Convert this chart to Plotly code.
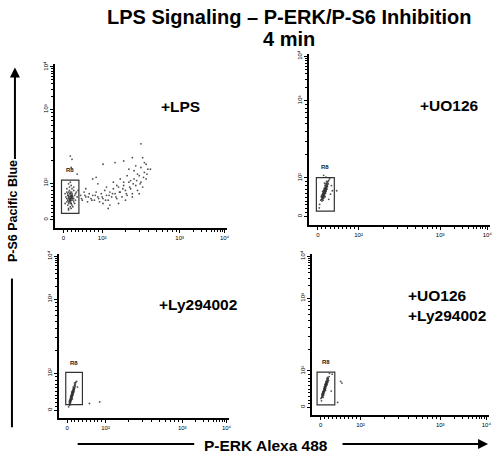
import math
import plotly.graph_objects as go

W, H = 500, 456
FONT = "Liberation Sans, Arial, sans-serif"

# ---------------- data (display units of the biexponential scale, 0..1) ----------------
tick_pos = [0.05, 0.275, 0.725, 0.985]
tick_text = ["0", "10²", "10³", "10⁴"]

panel_names = ["+LPS", "+UO126", "+Ly294002", "+UO126<br>+Ly294002"]
gate_name = "R8"

lps_x = [0.07,0.08,0.09,0.10,0.11,0.08,0.09,0.10,0.07,0.085,0.095,0.105,0.115,0.075,0.09,0.10,0.12,0.065,0.08,0.09,
         0.11,0.085,0.095,0.10,0.07,0.075,0.09,0.105,0.12,0.13,0.06,0.08,0.095,0.11,0.125,0.07,0.085,0.1,0.115,0.09,
         0.08,0.1,0.06,0.135,0.105,0.075,0.095,0.11,0.088,0.098,
         0.075,0.08,0.085,0.09,0.095,0.10,0.078,0.083,0.088,0.093,0.098,0.082,0.087,0.092,0.097,0.08,0.09,0.1,0.085,0.095,
         0.15,0.16,0.17,0.18,0.19,0.20,0.21,0.22,0.23,0.24,0.25,0.26,0.27,0.28,0.29,0.30,0.31,0.32,0.33,0.34,
         0.35,0.36,0.37,0.38,0.39,0.40,0.41,0.42,0.43,0.44,0.45,0.46,0.47,0.48,0.49,0.50,0.51,0.52,0.53,0.54,
         0.155,0.175,0.195,0.215,0.235,0.255,0.275,0.295,0.315,0.335,0.355,0.375,0.395,0.415,0.435,0.455,0.475,0.495,0.515,0.535,
         0.30,0.34,0.38,0.42,0.46,0.50,0.52,0.48,0.44,0.40,0.36,0.32,0.28,0.37,0.41,0.45,0.49,0.25,0.22,0.18,
         0.09,0.10,0.095,0.28,0.35,0.40,0.45,0.51,0.50,0.555,0.13,0.31,0.24,0.47,0.43,0.53]
lps_y = [0.18,0.19,0.20,0.19,0.18,0.16,0.17,0.21,0.22,0.23,0.15,0.17,0.20,0.14,0.22,0.24,0.21,0.19,0.12,0.13,
         0.16,0.25,0.26,0.14,0.16,0.20,0.18,0.19,0.17,0.19,0.21,0.27,0.12,0.23,0.22,0.24,0.17,0.18,0.15,0.28,
         0.11,0.20,0.15,0.23,0.13,0.21,0.19,0.25,0.17,0.22,
         0.17,0.18,0.16,0.19,0.17,0.18,0.20,0.19,0.21,0.18,0.20,0.15,0.17,0.16,0.19,0.22,0.21,0.20,0.18,0.15,
         0.20,0.17,0.22,0.19,0.16,0.21,0.18,0.20,0.17,0.22,0.19,0.16,0.21,0.18,0.23,0.20,0.17,0.22,0.19,0.24,
         0.21,0.18,0.25,0.22,0.19,0.26,0.23,0.20,0.28,0.24,0.21,0.30,0.26,0.23,0.32,0.28,0.25,0.34,0.30,0.36,
         0.18,0.20,0.19,0.17,0.20,0.18,0.19,0.17,0.20,0.21,0.19,0.22,0.24,0.21,0.25,0.27,0.29,0.27,0.31,0.33,
         0.25,0.28,0.30,0.32,0.35,0.37,0.40,0.33,0.29,0.28,0.26,0.14,0.15,0.15,0.17,0.19,0.21,0.27,0.30,0.24,
         0.44,0.42,0.37,0.39,0.40,0.41,0.43,0.43,0.515,0.36,0.33,0.12,0.31,0.38,0.36,0.39]

uo_x = [0.066,0.070,0.072,0.075,0.078,0.074,0.080,0.083,0.079,0.085,0.082,0.088,0.086,0.090,0.092,0.088,0.094,0.091,0.097,0.095,
        0.099,0.102,0.098,0.104,0.106,0.101,0.084,0.077,0.093,0.081,0.096,0.087,0.090,0.073,0.069,0.076,0.100,0.103,0.108,0.089,
        0.085,0.095,0.080,0.071,0.092,0.110,0.083,0.079,0.098,0.087,
        0.076,0.081,0.086,0.091,0.096,0.078,0.083,0.088,0.093,0.098,0.074,0.079,0.084,0.089,0.094,0.099,0.082,0.087,0.092,0.097,
        0.080,0.085,0.090,0.095,0.100,
        0.12,0.13,0.11,0.06,0.115,0.058,0.095,0.125,0.154,0.082]
uo_y = [0.145,0.150,0.160,0.155,0.165,0.170,0.175,0.170,0.180,0.185,0.190,0.190,0.200,0.195,0.205,0.210,0.215,0.220,0.220,0.230,
        0.235,0.240,0.245,0.250,0.255,0.225,0.160,0.185,0.185,0.200,0.205,0.175,0.165,0.140,0.165,0.195,0.210,0.225,0.240,0.230,
        0.215,0.195,0.155,0.175,0.240,0.260,0.205,0.145,0.255,0.245,
        0.160,0.172,0.184,0.196,0.208,0.178,0.190,0.202,0.214,0.226,0.150,0.162,0.174,0.186,0.198,0.212,0.182,0.194,0.206,0.218,
        0.168,0.180,0.200,0.222,0.232,
        0.18,0.20,0.15,0.12,0.27,0.10,0.28,0.23,0.20,0.29]

ly_x = [0.060,0.063,0.066,0.068,0.065,0.070,0.072,0.069,0.074,0.076,0.073,0.078,0.080,0.077,0.082,0.084,0.081,0.086,0.088,0.085,
        0.090,0.092,0.095,0.098,0.094,0.079,0.071,0.075,0.083,0.087,0.067,0.062,0.089,0.091,0.080,0.074,0.086,0.093,0.100,0.097,
        0.064,0.076,0.070,0.083,0.088,
        0.068,0.072,0.076,0.080,0.084,0.088,0.070,0.074,0.078,0.082,0.086,0.090,0.066,0.071,0.075,0.079,0.083,0.087,0.073,0.077,
        0.081,0.085,0.078,0.082,0.069,
        0.18,0.24,0.105,0.058,0.11]
ly_y = [0.085,0.095,0.090,0.100,0.110,0.110,0.120,0.125,0.130,0.125,0.140,0.140,0.150,0.155,0.160,0.165,0.170,0.175,0.180,0.190,
        0.190,0.200,0.205,0.210,0.185,0.135,0.105,0.145,0.150,0.165,0.115,0.105,0.170,0.178,0.118,0.112,0.155,0.215,0.220,0.195,
        0.080,0.160,0.135,0.140,0.160,
        0.105,0.118,0.132,0.146,0.160,0.175,0.120,0.133,0.147,0.158,0.170,0.183,0.098,0.112,0.126,0.140,0.154,0.168,0.128,0.142,
        0.156,0.180,0.130,0.145,0.095,
        0.09,0.10,0.225,0.07,0.19]

both_x = [0.052,0.056,0.058,0.061,0.063,0.060,0.066,0.068,0.065,0.070,0.072,0.069,0.074,0.076,0.073,0.078,0.080,0.077,0.082,0.084,
          0.081,0.086,0.088,0.090,0.085,0.092,0.071,0.075,0.079,0.083,0.087,0.067,0.062,0.078,0.091,0.057,0.074,0.089,0.095,0.064,
          0.080,0.086,0.070,0.093,0.098,
          0.060,0.064,0.068,0.072,0.076,0.080,0.084,0.062,0.066,0.070,0.074,0.078,0.082,0.086,0.058,0.063,0.067,0.071,0.075,0.079,
          0.083,0.073,0.077,0.081,0.069,
          0.163,0.17,0.146,0.10,0.115,0.11,0.055]
both_y = [0.105,0.110,0.120,0.115,0.130,0.135,0.140,0.135,0.150,0.155,0.150,0.165,0.170,0.165,0.180,0.185,0.180,0.195,0.200,0.195,
          0.210,0.215,0.210,0.220,0.225,0.230,0.145,0.160,0.170,0.185,0.200,0.125,0.145,0.155,0.205,0.130,0.190,0.235,0.215,0.112,
          0.205,0.190,0.175,0.225,0.240,
          0.125,0.138,0.152,0.165,0.178,0.192,0.205,0.140,0.148,0.160,0.175,0.188,0.198,0.210,0.115,0.128,0.142,0.158,0.168,0.180,
          0.192,0.160,0.172,0.186,0.150,
          0.21,0.20,0.08,0.26,0.255,0.15,0.09]

# faint events piled up left of the axis (below-scale values)
stray_x = [None, -0.093, -0.094, -0.11]
stray_y = [[], [0.61,0.55,0.50,0.46,0.43,0.41],
           [0.60,0.55,0.50,0.47,0.44,0.38],
           [0.60,0.54,0.51,0.48,0.45,0.42,0.37]]

gate_x0 = [0.039, 0.042, 0.041, 0.030]
gate_x1 = [0.140, 0.141, 0.139, 0.130]
gate_y0 = [0.090, 0.081, 0.083, 0.065]
gate_y1 = [0.293, 0.277, 0.279, 0.268]

# ---------------- layout helpers ----------------
panel_px = [(55, 228, 61, 226), (310, 492, 50, 223), (59, 230, 252, 418), (313, 491, 252, 415)]
label_pos = [(0.73, 0.745, "center"), (0.775, 0.70, "center"), (0.82, 0.69, "center"), (0.53, 0.68, "left")]

minor_vals = []
for i in range(1, 10):
    minor_vals.append(tick_pos[0] + (tick_pos[1] - tick_pos[0]) * i / 10)
for k in range(2, 10):
    minor_vals.append(tick_pos[1] + (tick_pos[2] - tick_pos[1]) * math.log10(k))
    minor_vals.append(tick_pos[2] + (tick_pos[3] - tick_pos[2]) * math.log10(k))

series = [(lps_x, lps_y), (uo_x, uo_y), (ly_x, ly_y), (both_x, both_y)]

fig = go.Figure()
layout = dict(width=W, height=H, margin=dict(l=0, r=0, t=0, b=0),
              paper_bgcolor="white", plot_bgcolor="white", showlegend=False,
              font=dict(family=FONT, color="black"))
shapes, annotations = [], []

for i, (l, r, t, b) in enumerate(panel_px):
    n = "" if i == 0 else str(i + 1)
    xa, ya = "x" + n, "y" + n
    axis_common = dict(range=[0, 1], showline=True, linecolor="black", linewidth=1.5,
                       ticks="outside", ticklen=3, tickwidth=1, tickcolor="black",
                       tickvals=tick_pos, ticktext=tick_text,
                       tickfont=dict(size=6, family=FONT, color="black"),
                       showgrid=False, zeroline=False,
                       minor=dict(tickvals=minor_vals, ticks="outside", ticklen=2,
                                  tickwidth=0.8, tickcolor="black", showgrid=False))
    layout["xaxis" + n] = dict(axis_common, domain=[l / W, r / W], anchor=ya)
    layout["yaxis" + n] = dict(axis_common, domain=[1 - b / H, 1 - t / H], anchor=xa, tickangle=-90)

    sx, sy = series[i]
    fig.add_trace(go.Scatter(x=sx, y=sy, xaxis=xa, yaxis=ya, mode="markers",
                             marker=dict(size=1.8, color="#333", opacity=0.85, line=dict(width=0)),
                             hoverinfo="skip"))
    if stray_y[i]:
        fig.add_trace(go.Scatter(x=[stray_x[i]] * len(stray_y[i]), y=stray_y[i], xaxis=xa, yaxis=ya,
                                 mode="markers", cliponaxis=False,
                                 marker=dict(size=1.6, color="#aaa", line=dict(width=0)),
                                 hoverinfo="skip"))

    shapes.append(dict(type="rect", xref=xa, yref=ya, x0=gate_x0[i], x1=gate_x1[i],
                       y0=gate_y0[i], y1=gate_y1[i], line=dict(color="#333", width=1.2)))
    annotations.append(dict(xref=xa, yref=ya, x=(gate_x0[i] + gate_x1[i]) / 2, y=gate_y1[i] + 0.06,
                            text="<b>" + gate_name + "</b>", showarrow=False,
                            font=dict(size=6, family=FONT, color="#222")))
    lx, ly, anc = label_pos[i]
    annotations.append(dict(xref=xa, yref=ya, x=lx, y=ly, xanchor=anc, align="left",
                            text="<b>" + panel_names[i] + "</b>", showarrow=False,
                            font=dict(size=15.5, family=FONT, color="black")))

# titles
annotations.append(dict(xref="paper", yref="paper", x=290 / W, y=1 - 13 / H, yanchor="middle",
                        text="<b>LPS Signaling – P-ERK/P-S6 Inhibition</b>", showarrow=False,
                        font=dict(size=20, family=FONT, color="black")))
annotations.append(dict(xref="paper", yref="paper", x=290 / W, y=1 - 35 / H, yanchor="middle",
                        text="<b>4 min</b>", showarrow=False,
                        font=dict(size=20, family=FONT, color="black")))
# axis labels
annotations.append(dict(xref="paper", yref="paper", x=267 / W, y=1 - 445 / H, yanchor="middle",
                        text="<b>P-ERK Alexa 488</b>", showarrow=False,
                        font=dict(size=15.5, family=FONT, color="black")))
annotations.append(dict(xref="paper", yref="paper", x=13 / W, y=1 - 209 / H, yanchor="middle",
                        xanchor="center", textangle=-90,
                        text="<b>P-S6 Pacific Blue</b>", showarrow=False,
                        font=dict(size=12.5, family=FONT, color="black")))
# arrows
annotations.append(dict(xref="paper", yref="paper", x=15 / W, y=1 - 64 / H, ax=0, ay=93,
                        text="", showarrow=True, arrowhead=2, arrowsize=1, arrowwidth=2, arrowcolor="black"))
annotations.append(dict(xref="paper", yref="paper", x=490 / W, y=1 - 444 / H, ax=-147, ay=0,
                        text="", showarrow=True, arrowhead=2, arrowsize=1, arrowwidth=2, arrowcolor="black"))
shapes.append(dict(type="line", xref="paper", yref="paper", x0=12 / W, x1=12 / W,
                   y0=1 - 277 / H, y1=1 - 427 / H, line=dict(color="black", width=2)))
shapes.append(dict(type="line", xref="paper", yref="paper", x0=78 / W, x1=195 / W,
                   y0=1 - 444 / H, y1=1 - 444 / H, line=dict(color="black", width=2)))

layout["shapes"] = shapes
layout["annotations"] = annotations
fig.update_layout(**layout)
fig.write_html("out.html", config={"displayModeBar": False},
               post_script="document.body.style.margin='0px';document.body.style.padding='0px';")
